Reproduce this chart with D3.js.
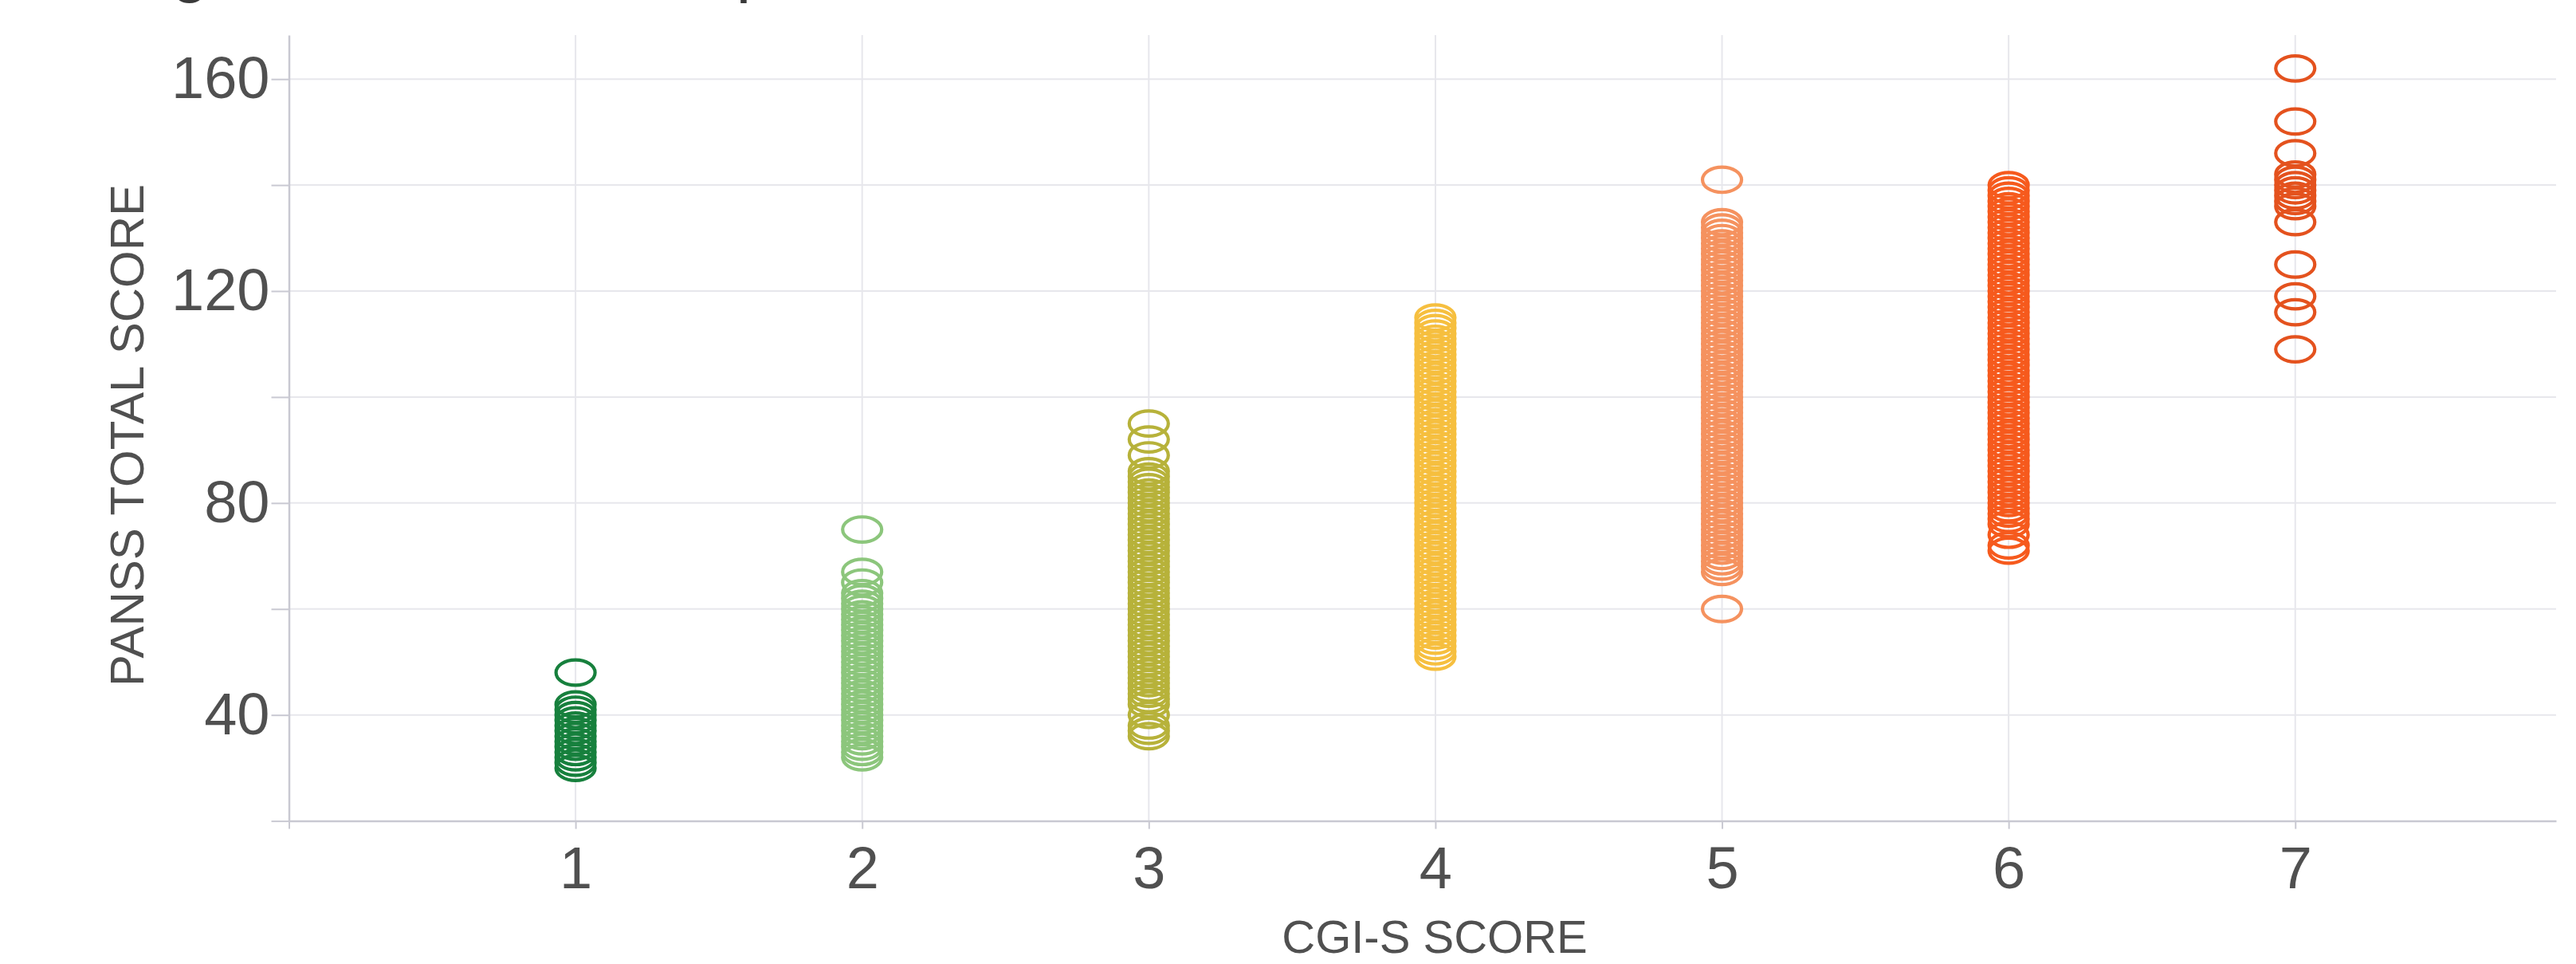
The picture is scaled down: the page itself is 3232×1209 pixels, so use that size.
<!DOCTYPE html>
<html>
<head>
<meta charset="utf-8">
<script src="https://cdn.jsdelivr.net/npm/d3@7"></script>
<style>
  html, body { margin: 0; padding: 0; background: #ffffff; overflow: hidden; }
  svg { display: block; font-family: "Liberation Sans", Arial, sans-serif; }
</style>
</head>
<body>
<svg id="chart" width="3232" height="1209"></svg>
<script>
// ---- data ----
const categories = [1, 2, 3, 4, 5, 6, 7];
const seriesColors = ["#17803d", "#8cc67c", "#b7b23a", "#f6bf3f", "#f5925f", "#f65a1d", "#e4521e"];

const cgi1 = [48, 42, 41, 40, 39, 38, 37, 36, 35, 34, 33, 32, 31, 30];
const cgi2 = [75, 67, 65, 63, 62, 61, 60, 59, 58, 57, 56, 55, 54, 53, 52, 51, 50, 49, 48, 47, 46, 45, 44, 43, 42, 41, 40, 39, 38, 37, 36, 35, 34, 33, 32];
const cgi3 = [95, 92, 89, 86, 85, 84, 83, 82, 81, 80, 79, 78, 77, 76, 75, 74, 73, 72, 71, 70, 69, 68, 67, 66, 65, 64, 63, 62, 61, 60, 59, 58, 57, 56, 55, 54, 53, 52, 51, 50, 49, 48, 47, 46, 45, 44, 43, 42, 40, 38, 37, 36];
const cgi4 = [115, 114, 113, 112, 111, 110, 109, 108, 107, 106, 105, 104, 103, 102, 101, 100, 99, 98, 97, 96, 95, 94, 93, 92, 91, 90, 89, 88, 87, 86, 85, 84, 83, 82, 81, 80, 79, 78, 77, 76, 75, 74, 73, 72, 71, 70, 69, 68, 67, 66, 65, 64, 63, 62, 61, 60, 59, 58, 57, 56, 55, 54, 53, 52, 51];
const cgi5 = [141, 133, 132, 131, 130, 129, 128, 127, 126, 125, 124, 123, 122, 121, 120, 119, 118, 117, 116, 115, 114, 113, 112, 111, 110, 109, 108, 107, 106, 105, 104, 103, 102, 101, 100, 99, 98, 97, 96, 95, 94, 93, 92, 91, 90, 89, 88, 87, 86, 85, 84, 83, 82, 81, 80, 79, 78, 77, 76, 75, 74, 73, 72, 71, 70, 69, 68, 67, 60];
const cgi6 = [140, 139, 138, 137, 136, 135, 134, 133, 132, 131, 130, 129, 128, 127, 126, 125, 124, 123, 122, 121, 120, 119, 118, 117, 116, 115, 114, 113, 112, 111, 110, 109, 108, 107, 106, 105, 104, 103, 102, 101, 100, 99, 98, 97, 96, 95, 94, 93, 92, 91, 90, 89, 88, 87, 86, 85, 84, 83, 82, 81, 80, 79, 78, 77, 76, 74, 72, 71];
const cgi7 = [162, 152, 146, 142, 141, 140, 139, 138, 137, 136, 133, 125, 119, 116, 109];

const seriesValues = [cgi1, cgi2, cgi3, cgi4, cgi5, cgi6, cgi7];

const yTickValues = [20, 40, 60, 80, 100, 120, 140, 160];
const yTickLabels = [40, 80, 120, 160];
const xTickValues = [0, 1, 2, 3, 4, 5, 6, 7];

const titleText = "Figure 2. Relationship between CGI-S and PANSS total score";
const xTitle = "CGI-S SCORE";
const yTitle = "PANSS TOTAL SCORE";

// ---- layout ----
const svg = d3.select("#chart");
const x = d3.scaleLinear().domain([0, 7.91]).range([362.5, 3207]);
const y = d3.scaleLinear().domain([20, 168.3]).range([1029.6, 44]);

const gridColor = "#e7e7ec";
const axisColor = "#c9c9d2";
const textColor = "#505050";

// title, cut off by the top edge as in the reference (only descenders visible)
svg.append("text")
  .attr("x", 144).attr("y", -14)
  .attr("font-size", 85)
  .attr("fill", "#3a3a3a")
  .text(titleText);

// horizontal gridlines
svg.append("g").selectAll("line")
  .data(yTickValues.filter(v => v > 20))
  .join("line")
  .attr("x1", x(0)).attr("x2", x(7.91))
  .attr("y1", d => y(d)).attr("y2", d => y(d))
  .attr("stroke", gridColor).attr("stroke-width", 2);

// vertical gridlines
svg.append("g").selectAll("line")
  .data(categories)
  .join("line")
  .attr("x1", d => x(d)).attr("x2", d => x(d))
  .attr("y1", y(168.3)).attr("y2", y(20))
  .attr("stroke", gridColor).attr("stroke-width", 2);

// y axis
const yAxis = svg.append("g")
  .attr("transform", `translate(${x(0)},0)`)
  .call(d3.axisLeft(y).tickValues(yTickValues).tickSize(22).tickSizeOuter(0).tickPadding(2)
    .tickFormat(d => yTickLabels.includes(d) ? String(d) : ""));
yAxis.select(".domain").attr("stroke", axisColor).attr("stroke-width", 2.5);
yAxis.selectAll(".tick line").attr("stroke", axisColor).attr("stroke-width", 2);
yAxis.selectAll(".tick text")
  .attr("font-size", 74).attr("fill", textColor)
  .attr("font-family", "Liberation Sans, Arial, sans-serif");

// x axis
const xAxis = svg.append("g")
  .attr("transform", `translate(0,${y(20)})`)
  .call(d3.axisBottom(x).tickValues(xTickValues).tickSize(10).tickSizeOuter(0).tickPadding(22)
    .tickFormat(d => d === 0 ? "" : String(d)));
xAxis.select(".domain").attr("stroke", axisColor).attr("stroke-width", 2.5);
xAxis.selectAll(".tick line").attr("stroke", axisColor).attr("stroke-width", 2);
xAxis.selectAll(".tick text")
  .attr("font-size", 74).attr("fill", textColor)
  .attr("font-family", "Liberation Sans, Arial, sans-serif");

// axis titles
svg.append("text")
  .attr("transform", "translate(180,546) rotate(-90)")
  .attr("text-anchor", "middle")
  .attr("font-size", 60)
  .attr("fill", textColor)
  .text(yTitle);

svg.append("text")
  .attr("x", 1800).attr("y", 1195)
  .attr("text-anchor", "middle")
  .attr("font-size", 58)
  .attr("fill", textColor)
  .text(xTitle);

// points: open ellipses
const points = [];
seriesValues.forEach((vals, i) => {
  vals.forEach(v => points.push({ cat: categories[i], val: v, color: seriesColors[i] }));
});

svg.append("g").selectAll("ellipse")
  .data(points)
  .join("ellipse")
  .attr("cx", d => x(d.cat))
  .attr("cy", d => y(d.val))
  .attr("rx", 24.5)
  .attr("ry", 15.8)
  .attr("fill", "none")
  .attr("stroke", d => d.color)
  .attr("stroke-width", 4.2);
</script>
</body>
</html>
